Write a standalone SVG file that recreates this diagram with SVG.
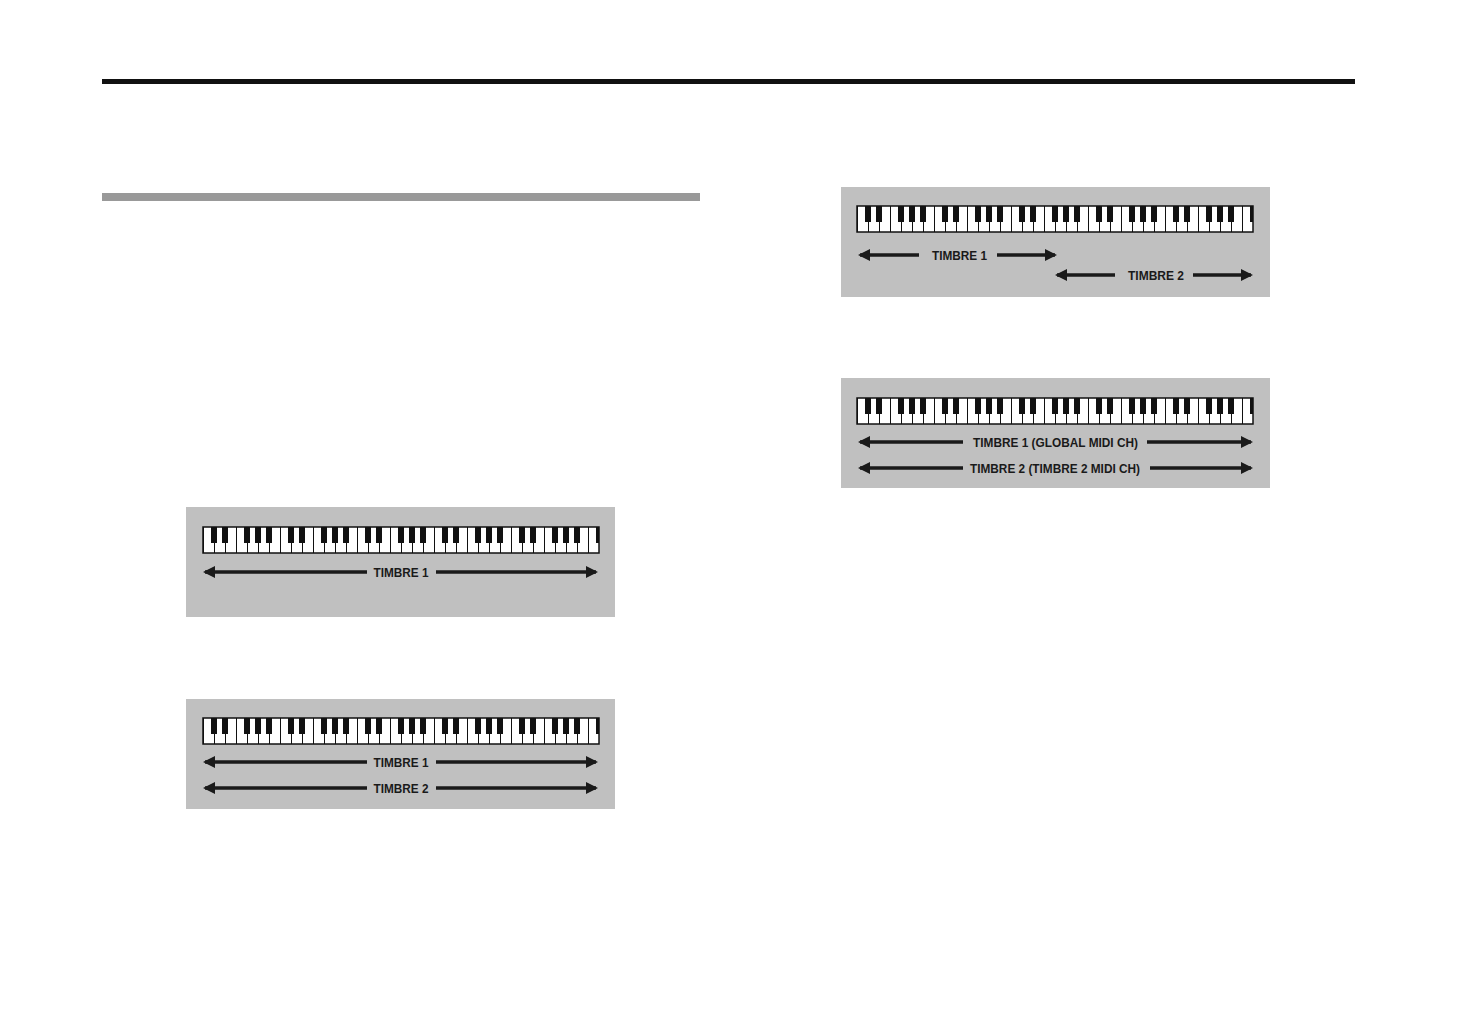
<svg xmlns="http://www.w3.org/2000/svg" width="1457" height="1032" viewBox="0 0 1457 1032">
<style>
.box{fill:#c0c0c0}
.ar{stroke:#1a1a1a;stroke-width:3.5;fill:none}
.lb{font-family:"Liberation Sans",Arial,sans-serif;font-weight:bold;font-size:13px;fill:#1a1a1a}
.kb{fill:url(#keys);stroke:#111;stroke-width:1.5}
</style>
<defs>
<pattern id="keys" patternUnits="userSpaceOnUse" width="77" height="26">
<rect width="77" height="26" fill="#fff"/>
<g stroke="#111" stroke-width="1"><line x1="0.5" y1="0" x2="0.5" y2="26"/><line x1="11.5" y1="0" x2="11.5" y2="26"/><line x1="22.5" y1="0" x2="22.5" y2="26"/><line x1="33.5" y1="0" x2="33.5" y2="26"/><line x1="44.5" y1="0" x2="44.5" y2="26"/><line x1="55.5" y1="0" x2="55.5" y2="26"/><line x1="66.5" y1="0" x2="66.5" y2="26"/></g>
<g fill="#111"><rect x="8" y="0" width="6" height="16"/><rect x="19" y="0" width="6" height="16"/><rect x="41" y="0" width="6" height="16"/><rect x="52" y="0" width="6" height="16"/><rect x="63" y="0" width="6" height="16"/></g>
</pattern>
<marker id="ah" markerUnits="userSpaceOnUse" markerWidth="12" markerHeight="12" refX="10" refY="6" orient="auto-start-reverse"><path d="M0,0 L12,6 L0,12 Z" fill="#1a1a1a"/></marker>
</defs>
<rect x="102" y="79" width="1253" height="5" fill="#111"/>
<rect x="102" y="193" width="598" height="8" fill="#999"/>

<g id="diagram1">
<rect class="box" x="186" y="507" width="429" height="110"/>
<g transform="translate(203,527)"><rect class="kb" x="0" y="0" width="396" height="26"/></g>
<line class="ar" x1="205" y1="572" x2="367" y2="572" marker-start="url(#ah)"/>
<text class="lb" x="401" y="576.5" text-anchor="middle" textLength="55" lengthAdjust="spacingAndGlyphs">TIMBRE 1</text>
<line class="ar" x1="436" y1="572" x2="596" y2="572" marker-end="url(#ah)"/>
</g>

<g id="diagram2">
<rect class="box" x="186" y="699" width="429" height="110"/>
<g transform="translate(203,718)"><rect class="kb" x="0" y="0" width="396" height="26"/></g>
<line class="ar" x1="205" y1="762" x2="367" y2="762" marker-start="url(#ah)"/>
<text class="lb" x="401" y="766.5" text-anchor="middle" textLength="55" lengthAdjust="spacingAndGlyphs">TIMBRE 1</text>
<line class="ar" x1="436" y1="762" x2="596" y2="762" marker-end="url(#ah)"/>
<line class="ar" x1="205" y1="788" x2="367" y2="788" marker-start="url(#ah)"/>
<text class="lb" x="401" y="792.5" text-anchor="middle" textLength="55" lengthAdjust="spacingAndGlyphs">TIMBRE 2</text>
<line class="ar" x1="436" y1="788" x2="596" y2="788" marker-end="url(#ah)"/>
</g>

<g id="diagram3">
<rect class="box" x="841" y="187" width="429" height="110"/>
<g transform="translate(857,206)"><rect class="kb" x="0" y="0" width="396" height="26"/></g>
<line class="ar" x1="860" y1="255" x2="919" y2="255" marker-start="url(#ah)"/>
<text class="lb" x="959.5" y="259.5" text-anchor="middle" textLength="55" lengthAdjust="spacingAndGlyphs">TIMBRE 1</text>
<line class="ar" x1="997" y1="255" x2="1055" y2="255" marker-end="url(#ah)"/>
<line class="ar" x1="1057" y1="275" x2="1115" y2="275" marker-start="url(#ah)"/>
<text class="lb" x="1156" y="279.5" text-anchor="middle" textLength="56" lengthAdjust="spacingAndGlyphs">TIMBRE 2</text>
<line class="ar" x1="1193" y1="275" x2="1251" y2="275" marker-end="url(#ah)"/>
</g>

<g id="diagram4">
<rect class="box" x="841" y="378" width="429" height="110"/>
<g transform="translate(857,398)"><rect class="kb" x="0" y="0" width="396" height="26"/></g>
<line class="ar" x1="860" y1="442" x2="963" y2="442" marker-start="url(#ah)"/>
<text class="lb" x="1055.5" y="446.5" text-anchor="middle" textLength="165" lengthAdjust="spacingAndGlyphs">TIMBRE 1 (GLOBAL MIDI CH)</text>
<line class="ar" x1="1147" y1="442" x2="1251" y2="442" marker-end="url(#ah)"/>
<line class="ar" x1="860" y1="468" x2="963" y2="468" marker-start="url(#ah)"/>
<text class="lb" x="1055" y="472.5" text-anchor="middle" textLength="170" lengthAdjust="spacingAndGlyphs">TIMBRE 2 (TIMBRE 2 MIDI CH)</text>
<line class="ar" x1="1150" y1="468" x2="1251" y2="468" marker-end="url(#ah)"/>
</g>
</svg>
